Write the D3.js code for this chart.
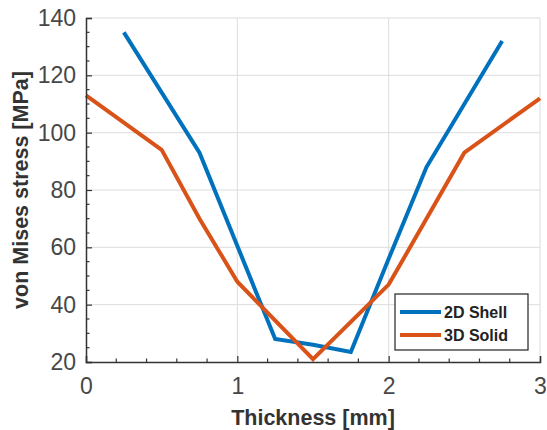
<!DOCTYPE html>
<html><head><meta charset="utf-8">
<script src="https://cdn.jsdelivr.net/npm/d3@7"></script>
<style>body{margin:0;background:#fff;}svg{display:block;font-family:Arial,"Liberation Sans",sans-serif;}</style>
</head><body>
<svg id="c" width="547" height="430"></svg>
<script>
const shellX = [0.25, 0.75, 1.25, 1.5, 1.75, 2.0, 2.25, 2.75];
const shellY = [135, 93, 28, 26, 23.5, 56, 88, 132];
const solidX = [0, 0.5, 0.75, 1.0, 1.5, 2.0, 2.5, 3.0];
const solidY = [113, 94, 70, 48, 21, 47, 93, 112];
const xTicks = [0, 1, 2, 3];
const yTicks = [20, 40, 60, 80, 100, 120, 140];
const seriesNames = ["2D Shell", "3D Solid"];
const colors = ["#0072BD", "#D95319"];

const svg = d3.select("#c");
const m = {l: 86, r: 7, t: 18, b: 68};
const W = 547 - m.l - m.r, H = 430 - m.t - m.b;
const g = svg.append("g").attr("transform", `translate(${m.l},${m.t})`);
const x = d3.scaleLinear().domain([0, 3]).range([0, W]);
const y = d3.scaleLinear().domain([20, 140]).range([H, 0]);

// grid
g.append("g").selectAll("line").data(xTicks.slice(1)).join("line")
  .attr("x1", d => x(d)).attr("x2", d => x(d)).attr("y1", 0).attr("y2", H)
  .attr("stroke", "#dcdcdc").attr("stroke-width", 1);
g.append("g").selectAll("line").data(yTicks.slice(1)).join("line")
  .attr("x1", 0).attr("x2", W).attr("y1", d => y(d)).attr("y2", d => y(d))
  .attr("stroke", "#dcdcdc").attr("stroke-width", 1);

// series
const data = [shellX.map((v, i) => [v, shellY[i]]), solidX.map((v, i) => [v, solidY[i]])];
const line = d3.line().x(d => x(d[0])).y(d => y(d[1]));
[0, 1].forEach(i => {
  g.append("path").datum(data[i]).attr("d", line).attr("fill", "none")
    .attr("stroke", colors[i]).attr("stroke-width", 4).attr("stroke-linejoin", "miter");
});

// axes
const axCol = "#333";
const xAxis = g.append("g").attr("transform", `translate(0,${H})`)
  .call(d3.axisBottom(x).tickValues(xTicks).tickSize(-6).tickPadding(16).tickFormat(d3.format("d")));
const yAxis = g.append("g")
  .call(d3.axisLeft(y).tickValues(yTicks).tickSize(-6).tickPadding(10).tickFormat(d3.format("d")));
[xAxis, yAxis].forEach(a => {
  a.select(".domain").attr("stroke", axCol).attr("stroke-width", 1.5);
  a.selectAll(".tick line").attr("stroke", axCol).attr("stroke-width", 1.2);
  a.selectAll("text").attr("fill", "#474747").attr("font-size", 23).attr("font-family", "Arial, 'Liberation Sans', sans-serif");
});
xAxis.selectAll("text").attr("dy", "0.71em");
// minor ticks
const xMinor = d3.range(0, 3.001, 0.2).filter(v => Math.abs(v - Math.round(v)) > 1e-6);
g.append("g").selectAll("line").data(xMinor).join("line")
  .attr("x1", d => x(d)).attr("x2", d => x(d)).attr("y1", H).attr("y2", H - 3.5)
  .attr("stroke", axCol).attr("stroke-width", 1.2);
const yMinor = d3.range(20, 140.001, 5).filter(v => v % 20 !== 0);
g.append("g").selectAll("line").data(yMinor).join("line")
  .attr("x1", 0).attr("x2", 3.5).attr("y1", d => y(d)).attr("y2", d => y(d))
  .attr("stroke", axCol).attr("stroke-width", 1.2);

// titles
svg.append("text").attr("x", m.l + W / 2).attr("y", 425).attr("text-anchor", "middle")
  .attr("font-weight", "bold").attr("font-size", 21.5).attr("fill", "#333").text("Thickness [mm]");
svg.append("text").attr("transform", `translate(28,${m.t + H / 2}) rotate(-90)`).attr("text-anchor", "middle")
  .attr("font-weight", "bold").attr("font-size", 21.5).attr("fill", "#333").text("von Mises stress [MPa]");

// legend
const lg = svg.append("g").attr("transform", "translate(395,294)");
lg.append("rect").attr("width", 133).attr("height", 56).attr("fill", "#fff")
  .attr("stroke", "#333").attr("stroke-width", 1.3);
seriesNames.forEach((n, i) => {
  const yy = 18 + i * 23;
  lg.append("line").attr("x1", 5).attr("x2", 46).attr("y1", yy).attr("y2", yy)
    .attr("stroke", colors[i]).attr("stroke-width", 4);
  lg.append("text").attr("x", 49).attr("y", yy).attr("dy", "0.36em")
    .attr("font-weight", "bold").attr("font-size", 16).attr("fill", "#222").text(n);
});
</script>
</body></html>
